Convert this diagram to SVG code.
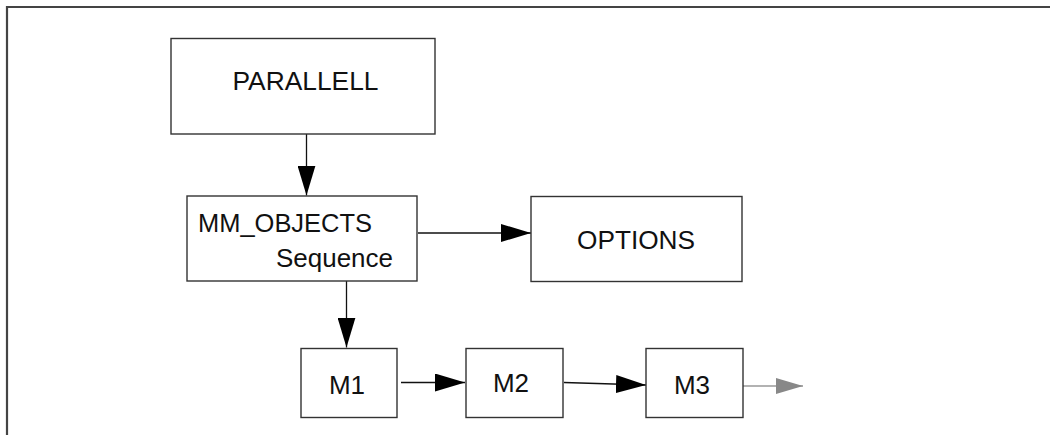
<svg xmlns="http://www.w3.org/2000/svg" width="1050" height="435" viewBox="0 0 1050 435">
<style>
.box{fill:#fff;stroke:#333;stroke-width:1.4}
.t{font-family:"Liberation Sans",Arial,sans-serif;font-size:26px;fill:#111}
.c{stroke:#111;stroke-width:1.3;fill:none}
.g{stroke:#999;stroke-width:1.6;fill:none}
</style>
<defs>
<marker id="ah" markerUnits="userSpaceOnUse" markerWidth="30" markerHeight="18" refX="30" refY="9" orient="auto">
<path d="M0,0 L30,9 L0,18 Z" fill="#000"/>
</marker>
<marker id="ag" markerUnits="userSpaceOnUse" markerWidth="27" markerHeight="16" refX="27" refY="8" orient="auto">
<path d="M0,0 L27,8 L0,16 Z" fill="#888"/>
</marker>
</defs>
<g id="frame"><path d="M1050,7 H7 V435" fill="none" stroke="#444" stroke-width="2.2"/></g>
<g id="connectors">
<line class="c" x1="306.5" y1="134" x2="306.5" y2="195.5" marker-end="url(#ah)"/>
<line class="c" x1="418" y1="233" x2="531" y2="233" marker-end="url(#ah)"/>
<line class="c" x1="346.5" y1="277" x2="346.5" y2="347.5" marker-end="url(#ah)"/>
<line class="c" x1="401" y1="382.5" x2="465" y2="382.5" marker-end="url(#ah)"/>
<line class="c" x1="564" y1="382.5" x2="646" y2="385" marker-end="url(#ah)"/>
<line class="g" x1="743" y1="386" x2="803" y2="386" marker-end="url(#ag)"/>
</g>
<g id="parallell"><rect class="box" x="171" y="38.5" width="264" height="95.5"/><text class="t" x="305.5" y="90" text-anchor="middle" textLength="146" lengthAdjust="spacingAndGlyphs">PARALLELL</text></g>
<g id="mm_objects"><rect class="box" x="187" y="196" width="230" height="85"/><text class="t" x="198" y="231.5" textLength="174" lengthAdjust="spacingAndGlyphs">MM_OBJECTS</text><text class="t" x="276" y="267" textLength="117" lengthAdjust="spacingAndGlyphs">Sequence</text></g>
<g id="options"><rect class="box" x="531" y="196.5" width="211" height="85"/><text class="t" x="636" y="249" text-anchor="middle" textLength="118" lengthAdjust="spacingAndGlyphs">OPTIONS</text></g>
<g id="m1"><rect class="box" x="301" y="348.5" width="96" height="69"/><text class="t" x="347" y="393.5" text-anchor="middle">M1</text></g>
<g id="m2"><rect class="box" x="466" y="348.5" width="97" height="69"/><text class="t" x="511" y="391.5" text-anchor="middle">M2</text></g>
<g id="m3"><rect class="box" x="646" y="348.5" width="97" height="69"/><text class="t" x="692" y="394" text-anchor="middle">M3</text></g>
</svg>
